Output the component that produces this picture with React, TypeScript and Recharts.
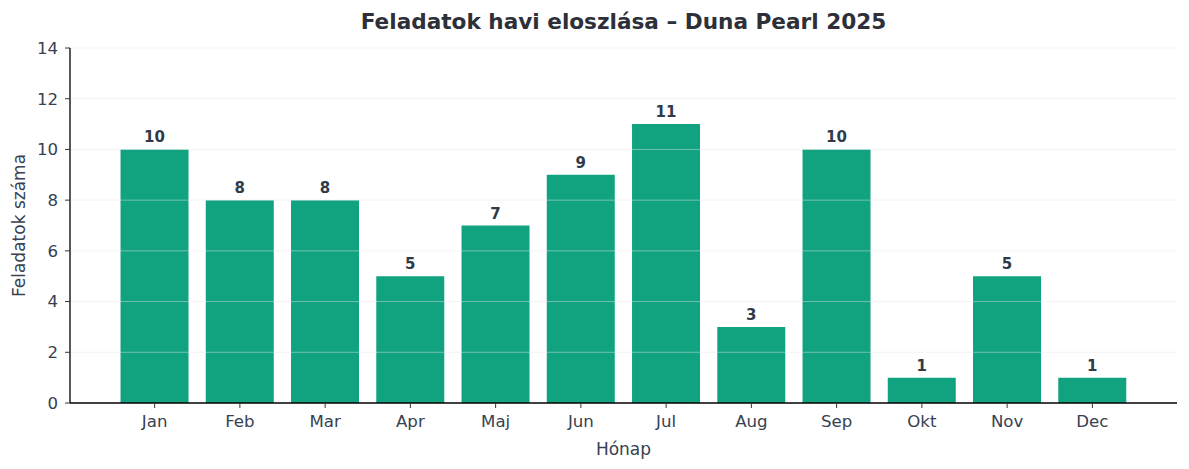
import React from "react";
import { BarChart, Bar, XAxis, YAxis, LabelList, ReferenceLine } from "recharts";

const months = ["Jan", "Feb", "Mar", "Apr", "Maj", "Jun", "Jul", "Aug", "Sep", "Okt", "Nov", "Dec"];
const taskCounts = [10, 8, 8, 5, 7, 9, 11, 3, 10, 1, 5, 1];
const yTicks = [0, 2, 4, 6, 8, 10, 12, 14];
const gridValues = [2, 4, 6, 8, 10, 12, 14];

const data = months.map((m, i) => ({ month: m, count: taskCounts[i] }));

const FONT = "'DejaVu Sans', sans-serif";
const TEXT = "#374151";

export default function App() {
  return (
    <div style={{ position: "absolute", left: 0, top: 0, width: 1189, height: 469, background: "#fff", fontFamily: FONT }}>
      <div
        style={{
          position: "absolute",
          left: 70,
          width: 1107,
          top: 8,
          textAlign: "center",
          fontSize: 21.6,
          fontWeight: "bold",
          color: "#2d3038",
          lineHeight: "27px",
        }}
      >
        Feladatok havi eloszlása – Duna Pearl 2025
      </div>
      <BarChart
        width={1189}
        height={469}
        data={data}
        margin={{ top: 48, right: 12, bottom: 0, left: 0 }}
        barCategoryGap="10%"
      >
        <XAxis
          dataKey="month"
          type="category"
          padding={{ left: 42, right: 42 }}
          height={66}
          stroke="#000"
          tickSize={5}
          tickMargin={7}
          tick={{ fill: TEXT, fontSize: 16.6, fontFamily: FONT }}
          tickLine={{ stroke: "#333" }}
          axisLine={{ stroke: "#000", strokeWidth: 1.3 }}
          label={{ value: "Hónap", position: "insideBottom", offset: 14, fill: TEXT, fontSize: 17, fontFamily: FONT }}
        />
        <YAxis
          type="number"
          domain={[0, 14]}
          ticks={yTicks}
          width={70}
          interval={0}
          tickSize={5}
          tickMargin={7}
          tick={{ fill: TEXT, fontSize: 16.6, fontFamily: FONT }}
          tickLine={{ stroke: "#333" }}
          axisLine={{ stroke: "#000", strokeWidth: 1.3 }}
          label={{
            value: "Feladatok száma",
            angle: -90,
            position: "insideLeft",
            offset: 19,
            style: { textAnchor: "middle" },
            fill: TEXT,
            fontSize: 17,
            fontFamily: FONT,
          }}
        />
        <Bar dataKey="count" fill="#11a37f" isAnimationActive={false}>
          <LabelList
            dataKey="count"
            position="top"
            offset={7}
            fill="#2f3a4a"
            fontSize={15}
            fontWeight="bold"
            fontFamily={FONT}
          />
        </Bar>
        {gridValues.map((v) => (
          <ReferenceLine key={v} y={v} stroke="#e5e7eb" strokeOpacity={0.45} strokeWidth={1} ifOverflow="extendDomain" />
        ))}
      </BarChart>
    </div>
  );
}
